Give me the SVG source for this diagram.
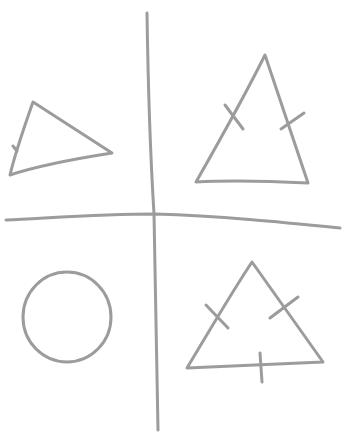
<svg xmlns="http://www.w3.org/2000/svg" width="342" height="433" viewBox="0 0 342 433">
<style>
.p{fill:none;stroke:#9c9c9c;stroke-width:3;stroke-linecap:round;stroke-linejoin:round}
</style>
<rect width="342" height="433" fill="#fff"/>
<g id="axes">
<path class="p" d="M147,13 C148,80 150,150 154,214 C156,290 157,360 158,430"/>
<path class="p" d="M6,220 C50,218 100,214 155,214 C220,216 280,222 340,228"/>
</g>
<g id="scalene-triangle">
<path class="p" d="M33,102 L112,153 C80,158 40,165 10,175 C16,150 25,125 33,102 Z"/>
<path class="p" d="M13,146 L17,151"/>
</g>
<g id="isosceles-triangle">
<path class="p" d="M265,55 L308,183 C270,181 230,180 196,182 C220,140 245,95 265,55 Z"/>
<path class="p" d="M225,105 L243,129"/>
<path class="p" d="M281,129 L304,113"/>
</g>
<g id="circle">
<ellipse class="p" cx="67" cy="317" rx="44" ry="45"/>
</g>
<g id="equilateral-triangle">
<path class="p" d="M252,262 L323,362 C280,364 230,366 187,368 C210,330 230,295 252,262 Z"/>
<path class="p" d="M206,305 L228,328"/>
<path class="p" d="M270,318 L298,297"/>
<path class="p" d="M260,353 L262,382"/>
</g>
</svg>
